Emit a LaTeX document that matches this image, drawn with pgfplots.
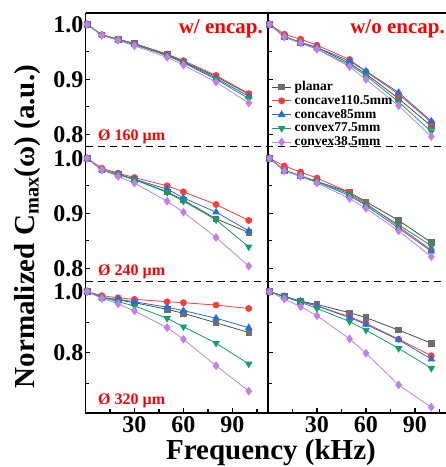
\documentclass[border=0pt]{standalone}
\usepackage{pgfplots}
\pgfplotsset{compat=1.18}
\usepackage{fontspec}
\setmainfont{Liberation Serif}
\definecolor{cgrey}{HTML}{6E6E6E}
\definecolor{cgreyl}{HTML}{4D4D4D}
\definecolor{cred}{HTML}{FF3B3B}
\definecolor{ctext}{HTML}{FF0000}
\definecolor{cblue}{HTML}{1F6FE0}
\definecolor{cgreen}{HTML}{12A064}
\definecolor{cpurple}{HTML}{C080E8}
\pgfplotsset{
 base/.style={scale only axis, anchor=south west, xmin=0, clip=false,
   axis y line*=left, tick align=inside,
   axis line style={line width=1.4pt},
   every tick/.style={black, line width=1.2pt},
   major tick length=5pt, minor tick length=3.5pt,
   ticklabel style={font=\fontsize{24}{24}\selectfont\bfseries},
   /pgf/number format/assume math mode=true,
   yticklabel style={/pgf/number format/fixed, /pgf/number format/precision=1,
     /pgf/number format/fixed zerofill, inner sep=2pt},
   every axis plot/.append style={line width=0.8pt},
 },
 L/.style={base, width=182.5pt, xmax=111.8},
 R/.style={base, width=178pt, xmax=109, yticklabels={}},
 r1/.style={height=134pt, ymin=0.777, ymax=1.0206, ytick={0.8,0.9,1.0}, minor ytick={0.85,0.95}, axis x line=none},
 r2/.style={height=135pt, ymin=0.775, ymax=1.0206, ytick={0.8,0.9,1.0}, minor ytick={0.85,0.95}, axis x line=none},
 r3/.style={height=131pt, ymin=0.602, ymax=1.0318, ytick={0.8,1.0}, minor ytick={0.7,0.9},
   axis x line*=bottom, xtick={30,60,90}, minor xtick={15,45,75,105}},
 sg/.style={color=cgreyl, mark=square*, mark options={fill=cgrey, draw=cgrey}, mark size=2.8pt},
 sr/.style={color=cred, mark=*, mark size=3pt},
 sb/.style={color=cblue, mark=triangle*, mark size=3.6pt},
 sgr/.style={color=cgreen, mark=triangle*, mark options={rotate=180}, mark size=3.6pt},
 sp/.style={color=cpurple, mark=diamond*, mark size=3.8pt},
}
\begin{document}
\begin{tikzpicture}
\useasboundingbox (0pt,0pt) rectangle (446pt,467pt);
% Row 1 left
\begin{axis}[L, r1, at={(85.5pt,320pt)}]
\addplot[sg] coordinates {(1,1.0) (10,0.981) (20,0.973) (30,0.965) (50,0.945) (60,0.932) (80,0.905) (100,0.873)};
\addplot[sr] coordinates {(1,1.0) (10,0.981) (20,0.973) (30,0.965) (50,0.946) (60,0.934) (80,0.907) (100,0.874)};
\addplot[sb] coordinates {(1,1.0) (10,0.981) (20,0.972) (30,0.964) (50,0.944) (60,0.931) (80,0.902) (100,0.869)};
\addplot[sgr] coordinates {(1,1.0) (10,0.980) (20,0.972) (30,0.963) (50,0.943) (60,0.930) (80,0.900) (100,0.865)};
\addplot[sp] coordinates {(1,1.0) (10,0.980) (20,0.971) (30,0.961) (50,0.940) (60,0.926) (80,0.895) (100,0.857)};
\end{axis}
% Row 1 right
\begin{axis}[R, r1, at={(268pt,320pt)},
  legend style={draw=none, fill=none, at={(axis description cs:0.02,0.5)}, anchor=north west,
    inner sep=0pt, font=\fontsize{13.5}{13.5}\selectfont\bfseries, row sep=0pt,
    nodes={inner sep=1pt, text height=9.5pt, text depth=2.25pt},
    /tikz/every odd column/.append style={column sep=2pt}},
  legend cell align=left,
  legend image code/.code={\draw[mark repeat=2,mark phase=2] plot coordinates {(0pt,0pt) (9.5pt,0pt) (19pt,0pt)};}]
\addplot[sg] coordinates {(1,1.0) (10,0.978) (20,0.967) (30,0.958) (50,0.929) (60,0.910) (80,0.865) (100,0.815)};
\addplot[sr] coordinates {(1,1.0) (10,0.982) (20,0.973) (30,0.962) (50,0.936) (60,0.914) (80,0.873) (100,0.822)};
\addplot[sb] coordinates {(1,1.0) (10,0.978) (20,0.967) (30,0.958) (50,0.933) (60,0.915) (80,0.876) (100,0.824)};
\addplot[sgr] coordinates {(1,1.0) (10,0.977) (20,0.966) (30,0.955) (50,0.926) (60,0.907) (80,0.859) (100,0.805)};
\addplot[sp] coordinates {(1,1.0) (10,0.977) (20,0.966) (30,0.955) (50,0.923) (60,0.900) (80,0.852) (100,0.796)};
\legend{planar,concave110.5mm,concave85mm,convex77.5mm,convex38.5mm}
\end{axis}
% Row 2 left
\begin{axis}[L, r2, at={(85.5pt,185pt)}]
\addplot[sg] coordinates {(1,1.0) (10,0.979) (20,0.971) (30,0.962) (50,0.939) (60,0.924) (80,0.890) (100,0.865)};
\addplot[sr] coordinates {(1,1.0) (10,0.982) (20,0.973) (30,0.965) (50,0.950) (60,0.939) (80,0.916) (100,0.887)};
\addplot[sb] coordinates {(1,1.0) (10,0.979) (20,0.971) (30,0.962) (50,0.944) (60,0.928) (80,0.902) (100,0.868)};
\addplot[sgr] coordinates {(1,1.0) (10,0.979) (20,0.970) (30,0.961) (50,0.938) (60,0.922) (80,0.888) (100,0.839)};
\addplot[sp] coordinates {(1,1.0) (10,0.979) (20,0.967) (30,0.955) (50,0.922) (60,0.902) (80,0.856) (100,0.804)};
\end{axis}
% Row 2 right
\begin{axis}[R, r2, at={(268pt,185pt)}]
\addplot[sg] coordinates {(1,1.0) (10,0.978) (20,0.968) (30,0.958) (50,0.938) (60,0.921) (80,0.887) (100,0.847)};
\addplot[sr] coordinates {(1,1.0) (10,0.986) (20,0.975) (30,0.964) (50,0.938) (60,0.918) (80,0.876) (100,0.833)};
\addplot[sb] coordinates {(1,1.0) (10,0.978) (20,0.968) (30,0.957) (50,0.932) (60,0.914) (80,0.873) (100,0.831)};
\addplot[sgr] coordinates {(1,1.0) (10,0.978) (20,0.968) (30,0.958) (50,0.935) (60,0.916) (80,0.879) (100,0.841)};
\addplot[sp] coordinates {(1,1.0) (10,0.977) (20,0.967) (30,0.955) (50,0.927) (60,0.909) (80,0.868) (100,0.821)};
\end{axis}
% Row 3 left
\begin{axis}[L, r3, at={(85.5pt,54pt)}]
\addplot[sg] coordinates {(1,1.0) (10,0.981) (20,0.973) (30,0.964) (50,0.942) (60,0.929) (80,0.898) (100,0.866)};
\addplot[sr] coordinates {(1,1.0) (10,0.987) (20,0.980) (30,0.975) (50,0.967) (60,0.964) (80,0.956) (100,0.945)};
\addplot[sb] coordinates {(1,1.0) (10,0.981) (20,0.975) (30,0.967) (50,0.949) (60,0.938) (80,0.913) (100,0.882)};
\addplot[sgr] coordinates {(1,1.0) (10,0.981) (20,0.967) (30,0.953) (50,0.913) (60,0.885) (80,0.831) (100,0.763)};
\addplot[sp] coordinates {(1,1.0) (10,0.978) (20,0.960) (30,0.937) (50,0.882) (60,0.844) (80,0.757) (100,0.674)};
\end{axis}
% Row 3 right
\begin{axis}[R, r3, at={(268pt,54pt)}]
\addplot[sg] coordinates {(1,1.0) (10,0.984) (20,0.969) (30,0.958) (50,0.931) (60,0.915) (80,0.874) (100,0.831)};
\addplot[sr] coordinates {(1,1.0) (10,0.984) (20,0.967) (30,0.953) (50,0.918) (60,0.896) (80,0.844) (100,0.790)};
\addplot[sb] coordinates {(1,1.0) (10,0.984) (20,0.969) (30,0.953) (50,0.915) (60,0.893) (80,0.842) (100,0.779)};
\addplot[sgr] coordinates {(1,1.0) (10,0.984) (20,0.965) (30,0.945) (50,0.902) (60,0.874) (80,0.814) (100,0.749)};
\addplot[sp] coordinates {(1,1.0) (10,0.976) (20,0.951) (30,0.921) (50,0.845) (60,0.798) (80,0.694) (100,0.621)};
\end{axis}
% frame lines
\draw[line width=1.4pt] (85.5pt,454pt) -- (446pt,454pt);
\draw[line width=1pt, dash pattern=on 7pt off 5pt] (85.5pt,320pt) -- (446pt,320pt);
\draw[line width=1pt, dash pattern=on 7pt off 5pt] (85.5pt,185pt) -- (446pt,185pt);
% texts
\node[anchor=base east, inner sep=0pt, text=ctext, font=\fontsize{21}{21}\selectfont\bfseries] at (263pt,433.7pt) {w/ encap.};
\node[anchor=base east, inner sep=0pt, text=ctext, font=\fontsize{21}{21}\selectfont\bfseries] at (445pt,433.7pt) {w/o encap.};
\node[anchor=base west, inner sep=0pt, text=ctext, font=\fontsize{16}{16}\selectfont\bfseries] at (98pt,326pt) {Ø 160 µm};
\node[anchor=base west, inner sep=0pt, text=ctext, font=\fontsize{16}{16}\selectfont\bfseries] at (98pt,191pt) {Ø 240 µm};
\node[anchor=base west, inner sep=0pt, text=ctext, font=\fontsize{16}{16}\selectfont\bfseries] at (98pt,62pt) {Ø 320 µm};
\node[rotate=90, anchor=base, inner sep=0pt, font=\fontsize{29}{29}\selectfont\bfseries] at (35pt,240.5pt) {Normalized C\textsubscript{max}(ω) (a.u.)};
\node[anchor=base, inner sep=0pt, font=\fontsize{29}{29}\selectfont\bfseries] at (271pt,7pt) {Frequency (kHz)};
\end{tikzpicture}
\end{document}
